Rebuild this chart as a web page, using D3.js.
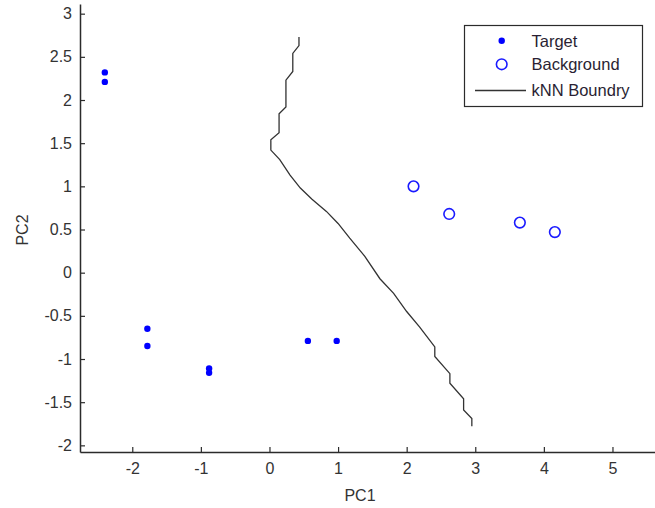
<!DOCTYPE html>
<html>
<head>
<meta charset="utf-8">
<script src="https://cdn.jsdelivr.net/npm/d3@7"></script>
<style>
html,body{margin:0;padding:0;background:#fff;}
svg{display:block;font-family:"Liberation Sans",Arial,sans-serif;}
</style>
</head>
<body>
<svg id="chart" width="655" height="508"></svg>
<script>
// Data
const targetX = [-2.40, -2.40, -1.78, -1.78, -0.88, -0.88, 0.56, 0.98];
const targetY = [2.32, 2.21, -0.65, -0.85, -1.11, -1.16, -0.79, -0.79];
const backgroundX = [2.10, 2.62, 3.65, 4.16];
const backgroundY = [1.00, 0.68, 0.58, 0.47];
const boundaryX = [0.43, 0.43, 0.34, 0.34, 0.24, 0.24, 0.14, 0.14, 0.02, 0.02, 0.15, 0.30, 0.45, 0.62, 0.83, 1.00, 1.17, 1.39, 1.61, 1.81, 2.00, 2.19, 2.41, 2.41, 2.63, 2.63, 2.83, 2.83, 2.95, 2.95];
const boundaryY = [2.73, 2.63, 2.54, 2.33, 2.23, 1.92, 1.84, 1.62, 1.54, 1.42, 1.31, 1.13, 0.98, 0.85, 0.71, 0.57, 0.40, 0.19, -0.07, -0.24, -0.45, -0.63, -0.86, -0.97, -1.17, -1.28, -1.46, -1.59, -1.69, -1.78];
const xTicks = [-2, -1, 0, 1, 2, 3, 4, 5];
const yTicks = [-2, -1.5, -1, -0.5, 0, 0.5, 1, 1.5, 2, 2.5, 3];
const legendLabels = ["Target", "Background", "kNN Boundry"];

const svg = d3.select("#chart");
const x = d3.scaleLinear().domain([-2.762, 5.62]).range([80, 655]);
const y = d3.scaleLinear().domain([-2.077, 3.112]).range([452, 4]);
const axisColor = "#2b2b2b";
const textColor = "#333";

// Axes
const gx = svg.append("g").attr("transform", "translate(0,452)")
  .call(d3.axisBottom(x).tickValues(xTicks).tickFormat(d => String(d))
    .tickSizeInner(-5).tickSizeOuter(0).tickPadding(11));
const gy = svg.append("g").attr("transform", "translate(80,0)")
  .call(d3.axisLeft(y).tickValues(yTicks).tickFormat(d => String(d))
    .tickSizeInner(-5).tickSizeOuter(0).tickPadding(8));
[gx, gy].forEach(g => {
  g.select(".domain").attr("stroke", axisColor).attr("stroke-width", 1.5);
  g.selectAll(".tick line").attr("stroke", axisColor).attr("stroke-width", 1.2);
  g.selectAll(".tick text").attr("fill", textColor)
    .style("font-size", "16px").style("font-family", "'Liberation Sans', Arial, sans-serif");
});

// Axis labels
svg.append("text").attr("x", 360).attr("y", 501).attr("text-anchor", "middle")
  .attr("fill", textColor).style("font-size", "16px").text("PC1");
svg.append("text").attr("transform", "translate(28,230) rotate(-90)")
  .attr("text-anchor", "middle").attr("fill", textColor).style("font-size", "16px").text("PC2");

// Boundary line
const bpts = boundaryX.map((d, i) => [d, boundaryY[i]]);
svg.append("path").datum(bpts)
  .attr("d", d3.line().x(d => x(d[0])).y(d => y(d[1])))
  .attr("fill", "none").attr("stroke", "#333").attr("stroke-width", 1.3);

// Target points
svg.append("g").selectAll("circle").data(targetX.map((d, i) => [d, targetY[i]]))
  .join("circle").attr("cx", d => x(d[0])).attr("cy", d => y(d[1])).attr("r", 3.2)
  .attr("fill", "#0000ff");

// Background points
svg.append("g").selectAll("circle").data(backgroundX.map((d, i) => [d, backgroundY[i]]))
  .join("circle").attr("cx", d => x(d[0])).attr("cy", d => y(d[1])).attr("r", 5.3)
  .attr("fill", "none").attr("stroke", "#1a1aff").attr("stroke-width", 1.6);

// Legend
const lg = svg.append("g");
lg.append("rect").attr("x", 464.5).attr("y", 25.5).attr("width", 178).attr("height", 81)
  .attr("fill", "#fff").attr("stroke", axisColor).attr("stroke-width", 1.2);
const rows = [40.7, 64.3, 90.5];
legendLabels.forEach((lab, i) => {
  lg.append("text").attr("x", 531.5).attr("y", rows[i]).attr("dy", "0.36em")
    .attr("fill", "#2a1f33").style("font-size", "16.5px").text(lab);
});
lg.append("circle").attr("cx", 501.7).attr("cy", rows[0]).attr("r", 3.2).attr("fill", "#0000ff");
lg.append("circle").attr("cx", 501.7).attr("cy", rows[1]).attr("r", 5.3)
  .attr("fill", "none").attr("stroke", "#1a1aff").attr("stroke-width", 1.6);
lg.append("line").attr("x1", 475).attr("x2", 526).attr("y1", rows[2]).attr("y2", rows[2])
  .attr("stroke", "#333").attr("stroke-width", 1.3);
</script>
</body>
</html>
